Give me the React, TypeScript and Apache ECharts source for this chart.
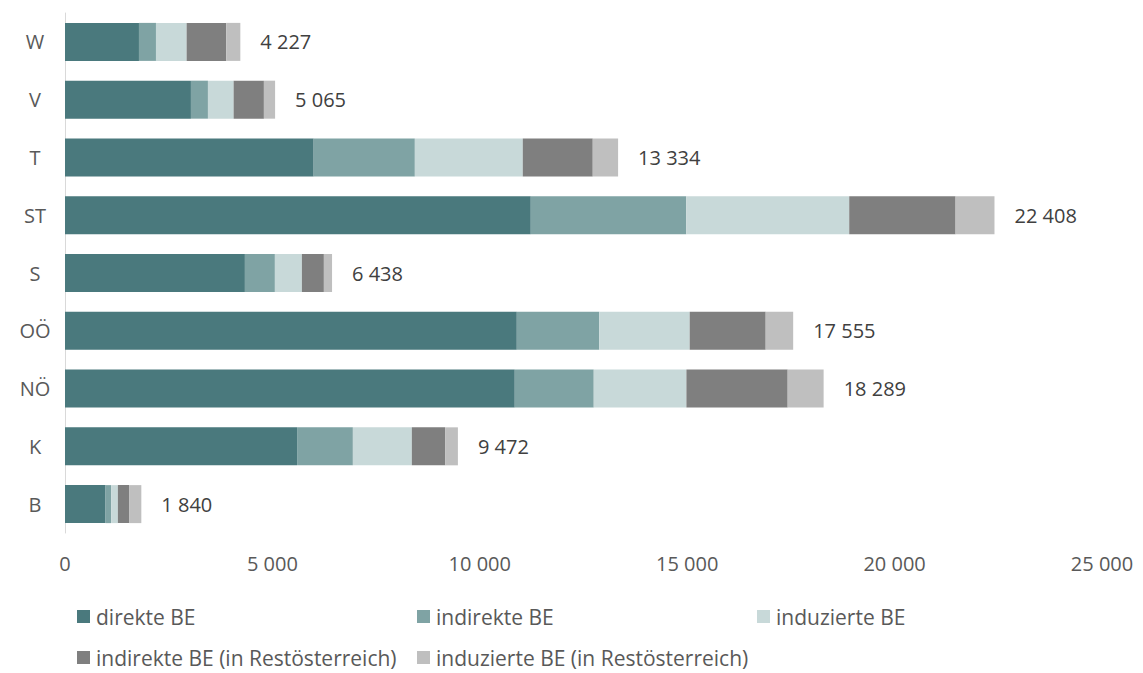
import React, { useEffect, useRef } from "react";
import * as echarts from "echarts";

const categories = ["B", "K", "NÖ", "OÖ", "S", "ST", "T", "V", "W"];
const direkteBE = [978, 5595, 10843, 10892, 4337, 11229, 5995, 3036, 1783];
const indirekteBE = [135, 1345, 1904, 1988, 723, 3747, 2439, 410, 410];
const induzierteBE = [162, 1421, 2234, 2180, 651, 3930, 2602, 619, 739];
const indirekteRest = [270, 803, 2441, 1832, 530, 2564, 1687, 730, 955];
const induzierteRest = [295, 308, 867, 663, 197, 938, 611, 270, 340];
const totals = [1840, 9472, 18289, 17555, 6438, 22408, 13334, 5065, 4227];

const seriesNames = [
  "direkte BE",
  "indirekte BE",
  "induzierte BE",
  "indirekte BE (in Restösterreich)",
  "induzierte BE (in Restösterreich)",
];
const seriesColors = ["#4A797D", "#7FA3A4", "#C8D9D9", "#7F7F7F", "#BFBFBF"];
const seriesData = [direkteBE, indirekteBE, induzierteBE, indirekteRest, induzierteRest];

const FONT = "'Open Sans', sans-serif";

function fmt(v: number): string {
  return String(Math.round(v)).replace(/\B(?=(\d{3})+(?!\d))/g, " ");
}

const legendPos = [
  { left: 77, top: 606 },
  { left: 417, top: 606 },
  { left: 757, top: 606 },
  { left: 77, top: 647 },
  { left: 417, top: 647 },
];

export default function App() {
  const ref = useRef<HTMLDivElement>(null);

  useEffect(() => {
    if (!ref.current) return;
    const chart = echarts.init(ref.current, undefined, { renderer: "svg" });
    const last = seriesNames.length - 1;
    chart.setOption({
      animation: false,
      backgroundColor: "#ffffff",
      textStyle: { fontFamily: FONT },
      grid: { left: 65, right: 41, top: 13, bottom: 140, containLabel: false },
      legend: seriesNames.map((n, i) => ({
        data: [n],
        left: legendPos[i].left,
        top: legendPos[i].top,
        padding: 0,
        icon: "rect",
        itemWidth: 13,
        itemHeight: 13,
        itemGap: 0,
        selectedMode: false,
        textStyle: {
          fontFamily: FONT,
          fontSize: 21,
          lineHeight: 20,
          color: "#595959",
          padding: [0, 0, 0, 1],
        },
      })),
      xAxis: {
        type: "value",
        min: 0,
        max: 25000,
        interval: 5000,
        axisLine: { show: false },
        axisTick: { show: false },
        splitLine: { show: false },
        axisLabel: {
          margin: 20,
          fontFamily: FONT,
          fontSize: 20,
          color: "#595959",
          formatter: (v: number) => fmt(v),
        },
      },
      yAxis: {
        type: "category",
        data: categories,
        axisLine: { show: true, lineStyle: { color: "#D9D9D9", width: 1 } },
        axisTick: { show: false },
        axisLabel: {
          margin: 30,
          align: "center",
          fontFamily: FONT,
          fontSize: 20,
          color: "#595959",
        },
      },
      series: seriesNames.map((n, i) => ({
        name: n,
        type: "bar",
        stack: "total",
        barWidth: 38,
        data: seriesData[i],
        itemStyle: { color: seriesColors[i] },
        emphasis: { disabled: true },
        label:
          i === last
            ? {
                show: true,
                position: "right",
                distance: 20,
                fontFamily: FONT,
                fontSize: 20,
                color: "#404040",
                formatter: (p: any) => fmt(totals[p.dataIndex]),
              }
            : { show: false },
      })),
    });
    return () => chart.dispose();
  }, []);

  return (
    <div
      ref={ref}
      style={{ position: "absolute", left: 0, top: 0, width: 1143, height: 673 }}
    />
  );
}
